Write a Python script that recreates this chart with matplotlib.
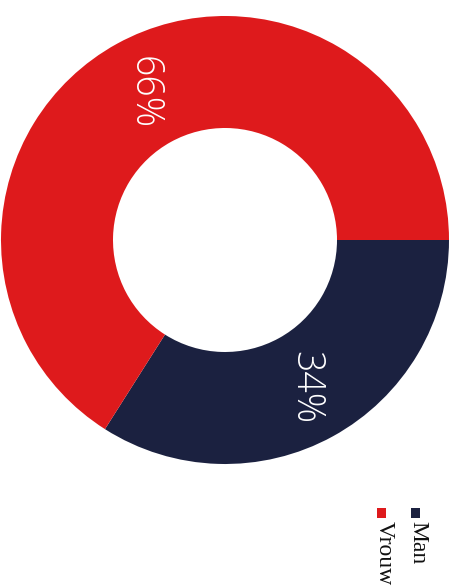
import matplotlib
matplotlib.use("Agg")
import matplotlib.pyplot as plt
from matplotlib.patches import Rectangle

# Gender split
categories = ["Man", "Vrouw"]
shares = [34, 66]
colors = ["#1B2140", "#DE1A1C"]

W, H = 456, 586
fig = plt.figure(figsize=(W / 100, H / 100), dpi=100)
fig.patch.set_facecolor("white")

# Donut centre and radius in pixels
cx, cy, r = 225, 240, 224
ax = fig.add_axes([(cx - r) / W, (H - cy - r) / H, 2 * r / W, 2 * r / H])

wedges, texts, autotexts = ax.pie(
    shares,
    colors=colors,
    startangle=0,
    counterclock=False,
    radius=1.0,
    wedgeprops=dict(width=0.5, linewidth=0),
    autopct="%.0f%%",
    pctdistance=0.75,
    textprops=dict(color="white", fontsize=27, family="Open Sans", fontweight="light"),
)
for t in autotexts:
    t.set_rotation(-90)
    t.set_ha("center")
    t.set_va("center")

ax.set_xlim(-1, 1)
ax.set_ylim(-1, 1)
ax.set_aspect("equal")
ax.axis("off")

# Legend, drawn in the same rotated orientation as the labels
legend_x = {"Man": 416, "Vrouw": 382}
for cat, col in zip(categories, colors):
    x = legend_x[cat]
    fig.patches.append(Rectangle(((x - 4.5) / W, (H - 518) / H), 9 / W, 10 / H,
                                 transform=fig.transFigure, facecolor=col,
                                 edgecolor="none"))
    fig.text((x + 2) / W, (H - 521) / H, cat, rotation=-90, ha="center", va="top",
             fontsize=17, family="Liberation Serif", color="#111111")

fig.savefig("out.png", dpi=100, facecolor="white")
